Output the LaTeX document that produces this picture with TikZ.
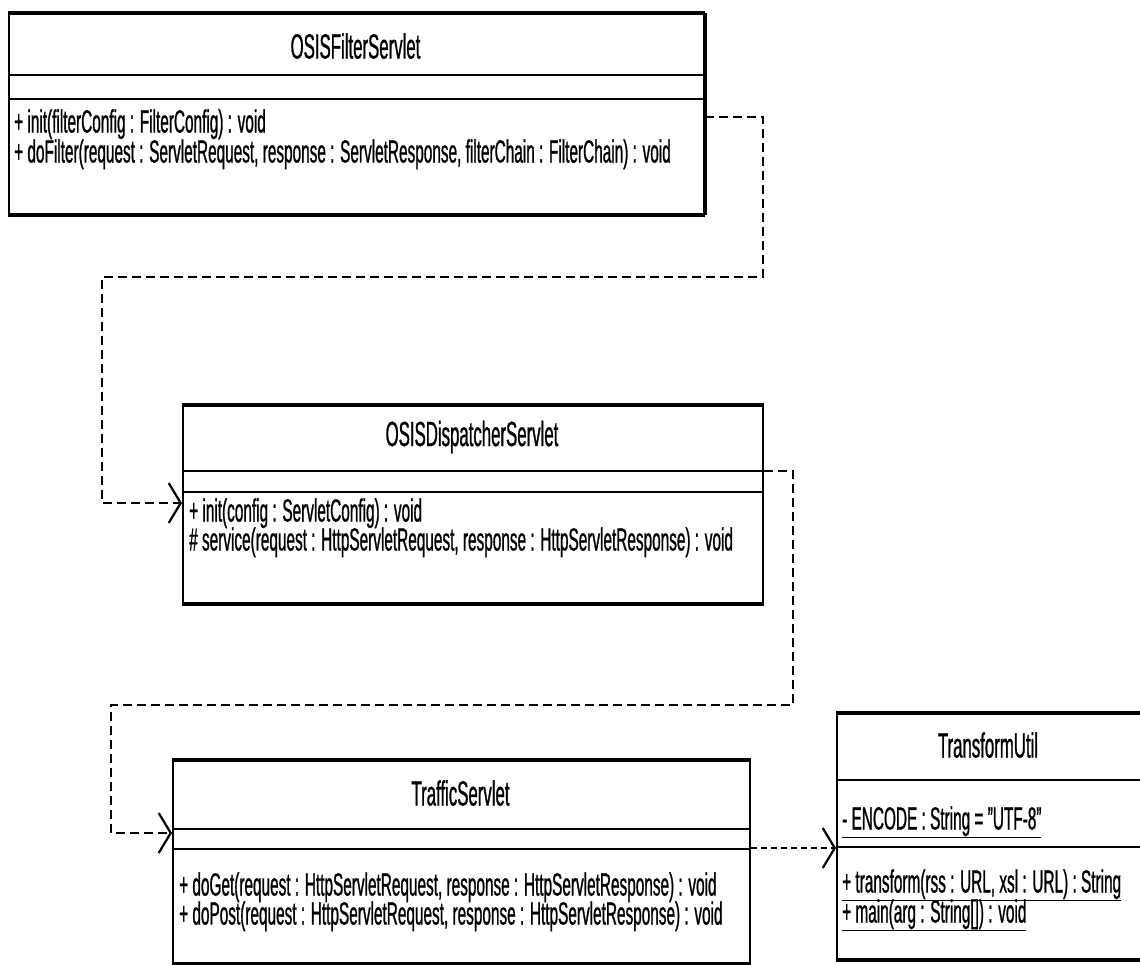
\documentclass[tikz,border=0pt]{standalone}
\usepackage{fontspec}
\setmainfont{Liberation Sans}[FakeStretch=0.48,FakeBold=0.8]
\usepackage{tikz}
\usetikzlibrary{arrows.meta,positioning}
\tikzstyle{classbox} = [rectangle, draw, line width=2pt, anchor=north west, inner sep=0pt]
\tikzstyle{classname} = [font=\fontsize{35}{35}\selectfont, inner sep=0pt]
\tikzstyle{member} = [font=\fontsize{32}{32}\selectfont, anchor=west, inner sep=0pt, text height=23pt, text depth=6pt]
\tikzstyle{compline} = [line width=2.5pt]
\tikzstyle{edgeline} = [line width=3.5pt]
\tikzstyle{depend} = [line width=2.2pt, dash pattern=on 9pt off 5pt, -{Straight Barb[length=12pt,width=40pt]}]

\begin{document}
\begin{tikzpicture}[x=1pt, y=-1pt]
\useasboundingbox (0,0) rectangle (1140,964);

% OSISFilterServlet
\node[classbox, minimum width=695pt, minimum height=200pt] (filter) at (8,13) {};
\draw[edgeline] (filter.north west) -- (filter.north east);
\draw[edgeline] (filter.south west) -- (filter.south east);
\draw[edgeline] (filter.north east) -- (filter.south east);
\draw[compline] (filter.west |- 0,75) -- (filter.east |- 0,75);
\draw[compline] (filter.west |- 0,99) -- (filter.east |- 0,99);
\node[classname] (filtername) at (355.5,46) {OSISFilterServlet};
\node[member] (filterinit) at (14,124) {+ init(filterConfig : FilterConfig) : void};
\node[member] (filterdo) at (14,154) {+ doFilter(request : ServletRequest, response : ServletResponse, filterChain : FilterChain) : void};

% OSISDispatcherServlet
\node[classbox, minimum width=580pt, minimum height=197pt] (dispatch) at (182,405) {};
\draw[edgeline] (dispatch.north west) -- (dispatch.north east);
\draw[edgeline] (dispatch.south west) -- (dispatch.south east);
\draw[compline] (dispatch.west |- 0,471) -- (dispatch.east |- 0,471);
\draw[compline] (dispatch.west |- 0,492) -- (dispatch.east |- 0,492);
\node[classname] (dispatchname) at (472,437) {OSISDispatcherServlet};
\node[member] (dispatchinit) at (189,513) {+ init(config : ServletConfig) : void};
\node[member] (dispatchserv) at (189,542) {\# service(request : HttpServletRequest, response : HttpServletResponse) : void};

% TrafficServlet
\node[classbox, minimum width=577pt, minimum height=202pt] (traffic) at (172,760) {};
\draw[edgeline] (traffic.north west) -- (traffic.north east);
\draw[edgeline] (traffic.south west) -- (traffic.south east);
\draw[compline] (traffic.west |- 0,829) -- (traffic.east |- 0,829);
\draw[compline] (traffic.west |- 0,849) -- (traffic.east |- 0,849);
\node[classname] (trafficname) at (460.5,793) {TrafficServlet};
\node[member] (trafficget) at (179,887) {+ doGet(request : HttpServletRequest, response : HttpServletResponse) : void};
\node[member] (trafficpost) at (179,916) {+ doPost(request : HttpServletRequest, response : HttpServletResponse) : void};

% TransformUtil
\node[classbox, minimum width=304pt, minimum height=245pt] (util) at (836,713) {};
\draw[edgeline] (util.north west) -- (util.north east);
\draw[edgeline] (util.south west) -- (util.south east);
\draw[compline] (util.west |- 0,780) -- (util.east |- 0,780);
\draw[compline] (util.west |- 0,847) -- (util.east |- 0,847);
\node[classname] (utilname) at (988,745) {TransformUtil};
\node[member] (utilenc) at (842,821) {\underline{- ENCODE : String = "UTF-8"}};
\node[member] (utiltrans) at (842,884) {\underline{+ transform(rss : URL, xsl : URL) : String}};
\node[member] (utilmain) at (842,914) {\underline{+ main(arg : String[]) : void}};

% Dependencies
\draw[depend] (filter.east |- 0,117) -| (763,277) -| (102,503) -- (dispatch.west |- 0,503);
\draw[depend] (dispatch.east |- 0,471) -| (793,705) -| (111,833) -- (traffic.west |- 0,833);
\draw[depend, dash pattern=on 6pt off 4pt] (traffic.east |- 0,848) -- (util.west |- 0,848);
\end{tikzpicture}
\end{document}
